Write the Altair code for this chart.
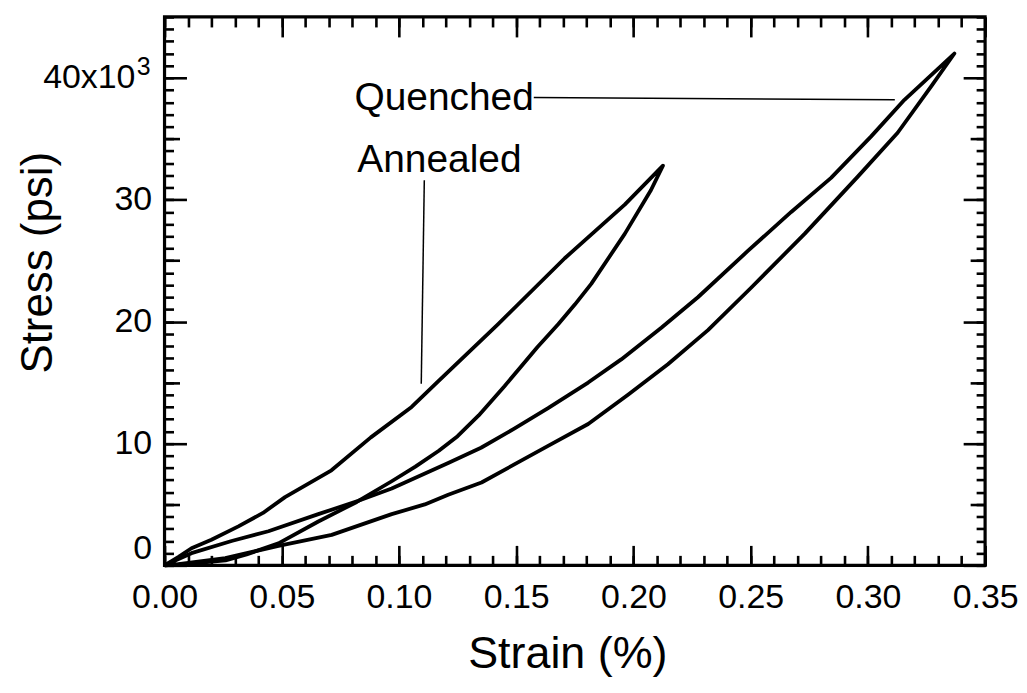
import altair as alt
import pandas as pd

FONT = "Liberation Sans"

# ---- data (strain %, stress kpsi) ----
ann_up_x = [0.0, 0.006, 0.0115, 0.02, 0.0315, 0.042, 0.0514, 0.0712, 0.088, 0.1054, 0.1167, 0.1423, 0.1707, 0.1963, 0.2126]
ann_up_y = [0.0, 0.7, 1.4, 2.1, 3.2, 4.3, 5.6, 7.8, 10.5, 13.0, 15.1, 19.8, 25.2, 29.6, 32.8]
ann_dn_x = [0.2075, 0.1963, 0.182, 0.175, 0.168, 0.159, 0.152, 0.145, 0.134, 0.125, 0.117, 0.107, 0.0969, 0.082, 0.0656, 0.0486, 0.035, 0.026, 0.009, 0.0]
ann_dn_y = [30.8, 27.2, 23.1, 21.4, 19.8, 17.9, 16.3, 14.7, 12.3, 10.6, 9.4, 8.1, 6.9, 5.2, 3.6, 1.8, 0.9, 0.4, 0.1, 0.0]

que_up_x = [0.0, 0.0115, 0.0286, 0.0443, 0.0656, 0.0827, 0.0969, 0.121, 0.135, 0.149, 0.1636, 0.1807, 0.1948, 0.2119, 0.2275, 0.2488, 0.2673, 0.2843, 0.3014, 0.3156, 0.3369]
que_up_y = [0.0, 1.0, 2.0, 2.8, 4.2, 5.3, 6.3, 8.4, 9.65, 11.2, 12.9, 15.0, 16.9, 19.5, 22.0, 25.8, 29.0, 31.8, 35.2, 38.2, 42.0]
que_dn_x = [0.327, 0.3127, 0.2957, 0.273, 0.2503, 0.2318, 0.2147, 0.1977, 0.1807, 0.1636, 0.1494, 0.1352, 0.121, 0.111, 0.0969, 0.0713, 0.0486, 0.0259, 0.006, 0.0]
que_dn_y = [39.3, 35.5, 31.9, 27.2, 22.8, 19.3, 16.5, 14.0, 11.6, 9.8, 8.3, 6.8, 5.8, 5.0, 4.2, 2.5, 1.6, 0.6, 0.1, 0.0]

label_text = ["Quenched", "Annealed"]
label_x = [0.081, 0.0822]
label_y = [37.4, 32.3]

leader_x = [0.1575, 0.1108]
leader_x2 = [0.3115, 0.1095]
leader_y = [38.4, 31.6]
leader_y2 = [38.2, 14.9]

# the "40x10^3" tick label, drawn as text: mantissa and superscript
top_label = ["40x10"]
top_label_x = [-0.0124]
top_label_y = [40.0]
sup_text = ["3"]
sup_x = [-0.0119]
sup_y = [40.2]

X_MAJOR = [0.0, 0.05, 0.10, 0.15, 0.20, 0.25, 0.30, 0.35]
X_MINOR = [round(0.01 * k, 2) for k in range(36)]
Y_MAJOR = [0, 10, 20, 30, 40]
Y_MID = [5, 15, 25, 35]
Y_MINOR = list(range(0, 46))

rows = []
for name, xs_, ys_ in [("Annealed", ann_up_x + ann_dn_x, ann_up_y + ann_dn_y),
                       ("Quenched", que_up_x + que_dn_x, que_up_y + que_dn_y)]:
    for i, (a, b) in enumerate(zip(xs_, ys_)):
        rows.append({"curve": name, "i": i, "strain": a, "stress": b})
df = pd.DataFrame(rows)
df_lab = pd.DataFrame({"t": label_text, "x": label_x, "y": label_y})
df_lead = pd.DataFrame({"x": leader_x, "x2": leader_x2, "y": leader_y, "y2": leader_y2})
df_top = pd.DataFrame({"t": top_label, "x": top_label_x, "y": top_label_y})
df_sup = pd.DataFrame({"t": sup_text, "x": sup_x, "y": sup_y})

xs = alt.Scale(domain=[0, 0.35], nice=False, zero=False)
ys = alt.Scale(domain=[0, 45], nice=False, zero=False)

main = alt.Chart(df).mark_line(color="black", strokeWidth=3.8, strokeJoin="round").encode(
    x=alt.X("strain:Q", scale=xs, axis=alt.Axis(
        orient="bottom", values=X_MAJOR, format=".2f", labelFlush=False, labelOverlap=False,
        ticks=False, tickSize=0, domain=False, grid=False, labelPadding=15,
        labelFont=FONT, labelFontSize=34, labelColor="black",
        title="Strain (%)", titleFont=FONT, titleFontSize=45, titleFontWeight="normal",
        titleColor="black", titleY=88, titleBaseline="middle", titleX=404)),
    y=alt.Y("stress:Q", scale=ys, axis=alt.Axis(
        orient="left", values=Y_MAJOR, labelOverlap=False,
        labelExpr="datum.value == 40 ? '' : datum.label",
        labelBaseline={"condition": {"test": "datum.value == 0", "value": "bottom"}, "value": "middle"},
        ticks=False, tickSize=0, domain=False, grid=False, labelPadding=13,
        labelFont=FONT, labelFontSize=34, labelColor="black",
        title="Stress (psi)", titleFont=FONT, titleFontSize=44, titleFontWeight="normal",
        titleColor="black", titleX=-126, titleY=246, titleAngle=270,
        titleBaseline="middle", titleAlign="center")),
    detail="curve:N",
    order="i:Q",
)

texts = alt.Chart(df_lab).mark_text(align="left", baseline="alphabetic", font=FONT,
                                    fontSize=39, color="black").encode(
    x=alt.X("x:Q", scale=xs, axis=None), y=alt.Y("y:Q", scale=ys, axis=None), text="t:N")

toplab = alt.Chart(df_top).mark_text(align="right", baseline="middle", font=FONT,
                                     fontSize=34, color="black").encode(
    x=alt.X("x:Q", scale=xs, axis=None), y=alt.Y("y:Q", scale=ys, axis=None), text="t:N")

sup = alt.Chart(df_sup).mark_text(align="left", baseline="alphabetic", font=FONT,
                                  fontSize=25, color="black").encode(
    x=alt.X("x:Q", scale=xs, axis=None), y=alt.Y("y:Q", scale=ys, axis=None), text="t:N")

leads = alt.Chart(df_lead).mark_rule(color="black", strokeWidth=1.5).encode(
    x=alt.X("x:Q", scale=xs, axis=None), x2="x2:Q",
    y=alt.Y("y:Q", scale=ys, axis=None), y2="y2:Q")


def tick_axis(orient, values, size):
    return alt.Axis(orient=orient, values=values, tickSize=size, offset=-size, ticks=True,
                    tickWidth=2.6, tickColor="black", tickOpacity=1, labels=False, domain=False,
                    grid=False, title=None)


def xticks(orient, values, size):
    return alt.Chart(df).mark_point(opacity=0).encode(
        x=alt.X("strain:Q", scale=xs, axis=tick_axis(orient, values, size)),
        y=alt.Y("stress:Q", scale=ys, axis=None))


def yticks(orient, values, size):
    return alt.Chart(df).mark_point(opacity=0).encode(
        x=alt.X("strain:Q", scale=xs, axis=None),
        y=alt.Y("stress:Q", scale=ys, axis=tick_axis(orient, values, size)))


tick_layers = [
    xticks("bottom", X_MAJOR, 20), xticks("bottom", X_MINOR, 10),
    xticks("top", X_MAJOR, 20), xticks("top", X_MINOR, 10),
    yticks("left", Y_MAJOR, 22), yticks("left", Y_MID, 15), yticks("left", Y_MINOR, 9),
    yticks("right", Y_MAJOR, 22), yticks("right", Y_MID, 15), yticks("right", Y_MINOR, 9),
]

chart = alt.layer(main, leads, texts, toplab, sup, *tick_layers).resolve_axis(
    x="independent", y="independent"
).properties(
    width=823, height=550, padding={"left": 9, "top": 6, "right": 0, "bottom": 2}
).configure(background="white").configure_view(stroke="black", strokeWidth=3.2)

chart.save("out.html", embed_options={"renderer": "svg", "actions": False})
